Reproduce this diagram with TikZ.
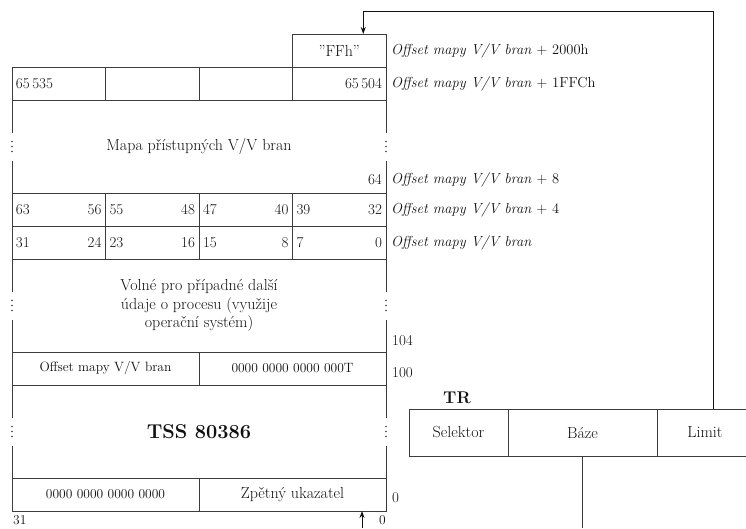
\documentclass[tikz,border=0pt]{standalone}
\usetikzlibrary{positioning,arrows.meta,calc}
\definecolor{rule}{HTML}{3C3C3C}
\definecolor{ink}{HTML}{111111}
\newcommand{\nm}{\fontsize{16pt}{18.5pt}\selectfont}
\newcommand{\dg}{\fontsize{15pt}{18pt}\selectfont}
\newcommand{\sm}{\fontsize{13.5pt}{16pt}\selectfont}
\tikzset{
  cell/.style={draw=rule, line width=0.9pt, minimum width=93.5pt, minimum height=33pt,
    inner sep=0pt, outer sep=0pt, font=\nm, text=ink},
  ncell/.style={cell, font=\dg, inner xsep=4pt, text width=85.5pt, align=left},
  hcell/.style={cell, minimum width=187pt},
  region/.style={minimum width=374pt, minimum height=93pt, inner sep=0pt, outer sep=0pt,
    font=\nm, text=ink, align=center},
  trcell/.style={cell, minimum height=47pt},
  lab/.style={font=\fontsize{14.5pt}{17pt}\selectfont, text=ink, anchor=west, inner sep=0pt},
  num/.style={font=\dg, text=ink, inner sep=0pt},
  side/.style={draw=rule, line width=0.9pt},
  arr/.style={-{Stealth[length=7pt,width=5pt]}, line width=0.8pt, color=ink},
}

\begin{document}
\begin{tikzpicture}[x=1pt,y=-1pt]
    \useasboundingbox (0,0) rectangle (746,528);
    % horni cast mapy
    \node[cell] (ffh) at (339.25,50.5) {''FFh''};
    \node[ncell, below=0pt of ffh] (r1d) {\hfill 65\,504};
    \node[ncell, left=0pt of r1d] (r1c) {};
    \node[ncell, left=0pt of r1c] (r1b) {};
    \node[ncell, left=0pt of r1b] (r1a) {65\,535};
    \node[region, below=0pt of r1a.south west, anchor=north west] (map) {Mapa přístupných V/V bran};
    \node[num, anchor=south east] (n64) at ($(map.south east)+(-4,-8)$) {64};
    \node[ncell, below=0pt of map.south west, anchor=north west] (r2a) {63\hfill 56};
    \node[ncell, right=0pt of r2a] (r2b) {55\hfill 48};
    \node[ncell, right=0pt of r2b] (r2c) {47\hfill 40};
    \node[ncell, right=0pt of r2c] (r2d) {39\hfill 32};
    \node[ncell, below=0pt of r2a] (r3a) {31\hfill 24};
    \node[ncell, right=0pt of r3a] (r3b) {23\hfill 16};
    \node[ncell, right=0pt of r3b] (r3c) {15\hfill 8};
    \node[ncell, right=0pt of r3c] (r3d) {7\hfill 0};
    % TSS
    \node[region, below=0pt of r3a.south west, anchor=north west] (volne)
      {Volné pro případné další\\údaje o procesu (využije\\operační systém)};
    \node[hcell, font=\sm, below=0pt of volne.south west, anchor=north west] (ofs) {Offset mapy V/V bran};
    \node[hcell, font=\sm, right=0pt of ofs] (tbit) {0000 0000 0000 000T};
    \node[region, below=0pt of ofs.south west, anchor=north west] (tss)
      {\fontsize{20pt}{24pt}\selectfont\bfseries TSS 80386};
    \node[hcell, font=\sm, below=0pt of tss.south west, anchor=north west] (zero) {0000 0000 0000 0000};
    \node[hcell, right=0pt of zero] (back) {Zpětný ukazatel};
    \foreach \r in {map,volne,tss}{
      \draw[side] (\r.north west) -- ($(\r.west)+(0,-14)$);
      \draw[side] (\r.south west) -- ($(\r.west)+(0,14)$);
      \draw[side] (\r.north east) -- ($(\r.east)+(0,-14)$);
      \draw[side] (\r.south east) -- ($(\r.east)+(0,14)$);
      \foreach \d in {-5,0,5}{
        \fill[rule] ($(\r.west)+(0,\d)$) circle (0.8pt);
        \fill[rule] ($(\r.east)+(0,\d)$) circle (0.8pt);
      }
    }
    % popisky vpravo
    \node[lab, right=5pt of ffh] (l2000) {\textit{Offset mapy V/V bran} + 2000h};
    \node[lab, right=5pt of r1d] (l1ffc) {\textit{Offset mapy V/V bran} + 1FFCh};
    \node[lab, right=9pt of n64] (l8) {\textit{Offset mapy V/V bran} + 8};
    \node[lab, right=5pt of r2d] (l4) {\textit{Offset mapy V/V bran} + 4};
    \node[lab, right=5pt of r3d] (l0) {\textit{Offset mapy V/V bran}};
    \node[num, anchor=south west] (n104) at ($(volne.south east)+(6,-6)$) {104};
    \node[num, anchor=west, right=6pt of tbit, yshift=-4pt] (n100) {100};
    \node[num, anchor=west, right=6pt of back, yshift=-3pt] (n0) {0};
    \node[num, font=\sm, anchor=north west] (b31) at ($(zero.south west)+(1,4)$) {31};
    \node[num, font=\sm, anchor=north east] (b0) at ($(back.south east)+(0,4)$) {0};
    % TR
    \node[font=\fontsize{17pt}{20pt}\selectfont\bfseries, text=ink] (trlab) at (457,398) {TR};
    \node[trcell, minimum width=99pt, anchor=north west] (sel) at (409,409) {Selektor};
    \node[trcell, minimum width=149pt, right=0pt of sel] (baze) {Báze};
    \node[trcell, minimum width=96pt, right=0pt of baze] (limit) {Limit};
    \coordinate (lim) at ($(limit.north)+(8,0)$);
    \coordinate (topbend) at ($(ffh.north)+(24,-23)$);
    \coordinate (bptr) at ($(back.south east)+(-24,17)$);
    \draw[arr] (lim) |- (topbend) -- (topbend |- ffh.north);
    \draw[side] (baze.south) -- ++(0,72);
    \draw[arr] (bptr) -- (bptr |- back.south);
\end{tikzpicture}
\end{document}
